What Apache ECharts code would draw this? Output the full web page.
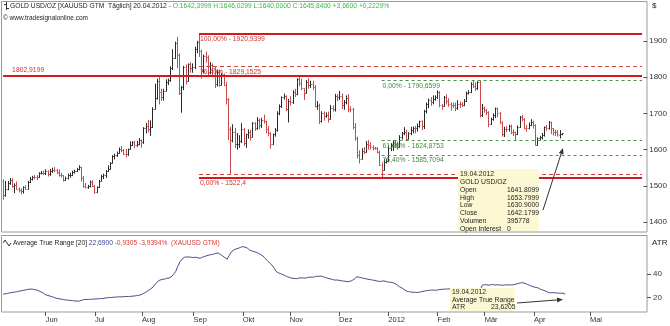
<!DOCTYPE html>
<html><head><meta charset="utf-8">
<script src="https://cdn.jsdelivr.net/npm/echarts@6/dist/echarts.min.js"></script>
<style>html,body{margin:0;padding:0;background:#fff}#c{width:670px;height:326px}</style>
</head><body><div id="c"></div>
<script>
// ---------- DATA (daily bars, 05.05.2011 - 20.04.2012) ----------
const opens = [
1515,1475,1492,1508,1517,1500,1502,1492,1490,1485,1496,1492,1510,1520,1526,1525,1525,1536,1537,
1536,1540,1533,1542,1544,1543,1539,1530,1529,1516,1521,1530,1531,1539,1542,1546,1551,1522,1501,1497,1500,1512,
1500,1483,1496,1515,1528,1530,1542,1548,1564,1583,1586,1591,1601,1600,1588,1587,1601,1614,1620,1612,1616,
1627,1622,1660,1666,1656,1663,1713,1742,1789,1760,1744,1762,1786,1793,1824,1852,1893,1862,1755,1774,1827,1790,1835,
1826,1827,1877,1898,1873,1817,1858,1855,1815,1834,1826,1781,1813,1779,1808,1779,1739,1658,1627,1650,1615,1617,
1623,1656,1618,1642,1649,1636,1673,1660,1683,1668,1683,1678,1657,1645,1617,1642,1653,1702,1721,1745,1747,
1713,1733,1732,1758,1754,1794,1783,1769,1757,1788,1779,1782,1774,1721,1724,1679,1701,1694,1697,1685,1715,1713,
1747,1745,1748,1722,1731,1743,1712,1711,1663,1632,1585,1575,1597,1594,1617,1612,1607,1605,1604,1594,1558,1544,
1566,1568,1604,1612,1620,1616,1608,1635,1645,1650,1630,1645,1655,1660,1659,1666,1678,1665,1707,1727,1737,1732,
1740,1745,1758,1724,1720,1745,1734,1727,1723,1722,1716,1727,1726,1722,1735,1757,1759,1782,1775,1769,1786,
1696,1716,1709,1705,1672,1684,1697,1714,1702,1675,1643,1658,1657,1666,1650,1648,1643,1662,1690,1685,1661,1660,
1668,1677,1668,1614,1631,1635,1640,1662,1660,1676,1659,1650,1649,1641.81,1642.40];
const highs = [
1518,1514,1514,1522,1521,1507,1512,1496,1493,1499,1502,1514,1525,1528,1530,1530,1538,1541,1542,
1546,1543,1547,1550,1552,1547,1545,1536,1530,1526,1534,1536,1542,1545,1550,1557,1553,1527,1508,1503,1515,1516,
1503,1499,1517,1531,1534,1544,1557,1566,1585,1589,1595,1606,1610,1602,1602,1603,1623,1623,1625,1624,1632,
1628,1662,1674,1682,1681,1717,1782,1796,1801,1768,1768,1794,1796,1830,1877,1898,1911,1866,1776,1831,1835,1838,1841,
1838,1884,1900,1920.94,1876,1862,1870,1860,1842,1838,1830,1820,1820,1812,1810,1786,1742,1663,1670,1660,1646,1640,
1673,1660,1644,1656,1655,1676,1676,1690,1686,1688,1697,1680,1665,1648,1645,1660,1706,1725,1747,1755,1750,
1740,1747,1764,1768,1797,1802.92,1796,1770,1792,1797,1790,1790,1778,1734,1727,1706,1705,1703,1705,1723,1722,1754,
1753,1762,1755,1737,1750,1753,1720,1715,1673,1636,1598,1604,1607,1624,1626,1620,1612,1608,1607,1597,1565,1575,
1575,1612,1618,1626,1627,1622,1640,1649,1662,1655,1648,1663,1664,1665,1672,1680,1681,1710,1730,1741,1745,1750,
1750,1764,1761,1726,1748,1753,1742,1730,1730,1730,1737,1733,1731,1740,1760,1764,1786,1790,1786,1789,1790.66,
1726,1719,1713,1706,1688,1700,1716,1716,1704,1678,1663,1665,1669,1669,1656,1650,1667,1693,1696,1687,1668,1675,
1684,1680,1670,1634,1638,1646,1664,1668,1679,1677,1660,1655,1654,1653.80,1646.03];
const lows = [
1462,1470,1488,1503,1495,1480,1490,1482,1477,1479,1489,1490,1508,1515,1518,1516,1522,1532,1530,
1530,1526,1528,1536,1538,1532,1526,1523,1512,1514,1518,1523,1527,1534,1538,1543,1512,1495,1493,1492,1496,1497,
1478,1481,1494,1513,1519,1522,1539,1545,1562,1573,1580,1589,1593,1585,1579,1583,1600,1610,1604,1608,1612,
1605,1616,1645,1648,1638,1660,1711,1738,1725,1735,1735,1761,1778,1787,1820,1850,1825,1751,1702,1764,1780,1788,1812,
1812,1822,1866,1856,1796,1810,1840,1800,1808,1800,1770,1774,1774,1777,1776,1725,1626,1532,1620,1605,1600,1605,
1618,1610,1605,1630,1625,1634,1652,1655,1656,1660,1672,1645,1637,1603,1613,1636,1650,1695,1715,1738,1706,
1675,1722,1726,1745,1750,1775,1764,1737,1755,1768,1770,1765,1717,1710,1671,1675,1680,1688,1675,1683,1705,1705,
1734,1737,1712,1710,1725,1703,1703,1656,1625,1576,1562,1573,1588,1592,1600,1600,1598,1600,1590,1555,1522.4,1542,
1562,1565,1596,1597,1605,1600,1606,1628,1640,1625,1628,1640,1645,1645,1650,1661,1654,1657,1700,1714,1721,1725,
1735,1740,1717,1710,1718,1725,1718,1708,1715,1706,1710,1715,1718,1720,1732,1752,1756,1770,1762,1765,1689,
1690,1702,1695,1662,1668,1680,1687,1690,1670,1636,1635,1648,1650,1643,1638,1627,1640,1660,1678,1656,1650,1656,
1665,1658,1612,1611,1626,1628,1636,1652,1655,1643,1639,1638,1636,1630.90,1640.00];
const closes = [
1475,1492,1508,1517,1500,1502,1492,1490,1485,1496,1492,1510,1520,1526,1525,1524,1536,1537,1536,
1540,1533,1542,1544,1543,1539,1530,1529,1516,1521,1530,1531,1539,1542,1546,1551,1522,1501,1497,1500,1512,1500,
1483,1496,1515,1528,1530,1542,1548,1564,1583,1586,1591,1601,1600,1588,1587,1601,1614,1620,1612,1616,1627,
1622,1660,1666,1656,1663,1713,1742,1789,1760,1744,1762,1786,1793,1824,1852,1893,1862,1755,1774,1827,1790,1835,1826,
1827,1877,1898,1873,1817,1858,1855,1815,1834,1826,1781,1813,1779,1808,1779,1739,1658,1627,1650,1615,1617,1623,
1656,1618,1642,1649,1636,1673,1660,1683,1668,1683,1678,1657,1645,1617,1642,1653,1702,1721,1745,1747,1713,
1733,1732,1758,1754,1794,1783,1769,1757,1788,1779,1782,1774,1721,1724,1679,1701,1694,1697,1685,1715,1713,1747,
1745,1748,1722,1731,1743,1712,1711,1663,1632,1585,1575,1597,1594,1617,1612,1607,1605,1604,1594,1558,1544,1566,
1568,1604,1612,1620,1616,1608,1635,1645,1650,1630,1645,1655,1660,1659,1666,1678,1665,1707,1727,1737,1732,1740,
1745,1758,1724,1720,1745,1734,1727,1723,1722,1716,1727,1726,1722,1735,1757,1759,1782,1775,1769,1786,1696,
1716,1709,1705,1672,1684,1697,1714,1702,1675,1643,1658,1657,1666,1650,1648,1643,1662,1690,1685,1661,1660,1668,
1677,1668,1614,1631,1635,1640,1662,1660,1676,1659,1650,1649,1642,1642.18,1645.84];
const atrValues = [
22.8,23.1,23.4,23.9,24.2,24.5,24.8,25.3,25.6,26.0,26.4,26.8,27.1,27.0,26.7,26.3,25.5,24.6,23.6,
22.2,21.6,21.1,20.5,19.8,19.1,18.8,18.5,18.1,17.8,17.6,17.4,17.2,17.0,16.8,16.9,17.5,18.0,18.3,18.2,18.4,18.5,
18.6,18.7,18.9,19.0,19.2,19.6,19.8,19.9,20.1,20.2,20.4,20.5,20.4,20.6,20.8,20.7,20.9,21.1,21.3,21.6,22.0,
22.6,23.8,24.8,26.2,27.4,29.0,31.5,33.6,34.8,35.3,35.6,36.3,36.5,37.5,39.5,42.0,46.5,50.5,53.0,54.3,54.6,54.5,54.3,
54.0,54.4,53.8,53.4,54.5,55.0,55.7,56.2,56.6,57.0,57.7,57.9,56.8,55.5,54.0,52.6,56.0,59.1,60.5,61.5,62.0,62.8,
63.4,63.0,62.2,60.5,59.8,59.2,58.5,57.7,56.6,55.5,53.4,51.5,49.5,47.7,45.0,42.0,41.0,40.2,39.4,38.5,37.6,
37.0,36.3,36.2,36.0,36.4,36.8,36.6,36.5,37.0,37.4,37.2,37.5,38.1,38.0,38.3,37.6,37.0,36.3,35.8,35.4,34.8,34.9,
34.6,34.2,34.0,33.7,33.4,33.8,34.6,36.0,37.7,37.2,36.8,36.3,35.9,35.4,35.2,34.8,34.5,34.0,33.6,33.8,34.1,33.6,
33.0,32.9,32.6,31.8,30.5,29.1,28.2,26.8,25.4,25.0,24.6,24.4,24.3,24.2,24.5,24.9,25.4,25.7,26.0,26.2,26.3,26.1,
26.4,26.7,26.9,27.1,27.1,27.3,27.0,26.8,26.6,26.5,26.2,26.0,25.8,25.9,26.1,25.9,26.3,26.4,26.2,26.4,30.5,
30.9,30.7,30.4,31.0,30.8,30.6,30.8,30.5,30.4,30.7,30.6,30.8,30.6,30.9,31.3,31.9,32.4,32.5,32.1,31.2,30.3,29.5,
28.9,28.5,28.0,26.9,26.3,25.6,24.6,24.0,23.9,24.1,23.8,23.6,23.5,23.62,22.69];

const priceTicks = [1400,1500,1600,1700,1800,1900];
const atrTicks = [20,40];
const tickMonths = ['2011-06','2011-07','2011-08','2011-09','2011-10','2011-11','2011-12','2012-01','2012-02','2012-03','2012-04','2012-05'];
const tickLabels = ['Jun','Jul','Aug','Sep','Okt','Nov','Dez','2012','Feb','Mär','Apr','Mai'];

// Levels
const redFibStart = '2011-09-06';
const redFibLevels = [1920.9399, 1829.1525, 1532.0];
const redFibLabels = ['100,00% - 1920,9399', '76,40% - 1829,1525', ''];
const supportLevel = 1522.4;
const supportLabel = '0,00% - 1522,4';
const resistLevel = 1802.9199;
const resistLabel = '1802,9199';
const greenFibStart = '2011-12-29';
const greenFibLevels = [1790.6599, 1624.8753, 1585.7094, 1522.4];
const greenFibLabels = ['0,00% - 1790,6599', '61,80% - 1624,8753', '76,40% - 1585,7094', '100,00% - 1522,4'];

const titleMain = 'GOLD USD/OZ [XAUUSD GTM  Täglich] 20.04.2012 - ';
const titleQuote = 'O:1642,3999 H:1646,0299 L:1640,0000 C:1645,8400 +3,6600 +0,2229%';
const atrName = 'Average True Range [20] ';
const atrValueText = '22,6900';
const atrChangeText = ' -0,9305 -3,9394%  (XAUUSD GTM)';
const tipMainRows = [['19.04.2012',''],['GOLD USD/OZ',''],['Open','1641.8099'],['High','1653.7999'],['Low','1630.9000'],['Close','1642.1799'],['Volumen','395778'],['Open Interest','0']];
const tipAtrRows = [['19.04.2012',''],['Average True Range',''],['ATR','23,6205']];

// ---------- categories: trading days, then calendar days after last bar ----------
function buildDates(){
  const out=[]; const one=86400000;
  let t=Date.UTC(2011,4,5); const lastTrade=Date.UTC(2012,3,20), end=Date.UTC(2012,4,26);
  while(t<=end){ const d=new Date(t), wd=d.getUTCDay();
    if(t>lastTrade || (wd!==0 && wd!==6)) out.push(d.toISOString().slice(0,10));
    t+=one; }
  return out;
}
const dates = buildDates();
const LAST = dates.length-1;
const labelAt = new Map();
tickMonths.forEach((m,k)=>{ const i=dates.findIndex(d=>d.startsWith(m)); if(i>=0) labelAt.set(i,tickLabels[k]); });

const FONT = '"Liberation Sans", Arial, sans-serif';
// fit font sizes to the widths measured in the reference
const mctx = document.createElement('canvas').getContext('2d');
function fit(text, w){ mctx.font = '100px '+FONT; return Math.min(8.5, Math.max(6, 100*w/mctx.measureText(text).width)); }
const FS_TITLE = fit(titleMain+titleQuote, 380);
const FS_ATR = fit(atrName+atrValueText+atrChangeText, 207);
const FS = fit('100,00% - 1920,9399', 65);
const FS_COPY = fit('© www.tradesignalonline.com', 85);

const ohlcData = opens.map((o,i)=>[i,o,highs[i],lows[i],closes[i]]);

function renderOHLC(params, api){
  const i=api.value(0);
  const ph=api.coord([i, api.value(2)]);
  const x=Math.round(ph[0])+0.5;
  const yl=api.coord([i, api.value(3)])[1];
  const yo=Math.round(api.coord([i, api.value(1)])[1])+0.5;
  const yc=Math.round(api.coord([i, api.value(4)])[1])+0.5;
  const up=api.value(4)>=api.value(1);
  const col=up?'#2a2a2a':'#c94a4a';
  const st={stroke:col,lineWidth:1};
  return {type:'group',children:[
    {type:'line',shape:{x1:x,y1:ph[1],x2:x,y2:yl},style:st},
    {type:'line',shape:{x1:x-1,y1:yo,x2:x,y2:yo},style:st},
    {type:'line',shape:{x1:x,y1:yc,x2:x+1,y2:yc},style:st}
  ]};
}

const RED='#d81818', REDL='#cc3030', GREEN='#4d944d', GREENL='#3d8a3d';
function lbl(text,color,pos,dist){
  return {show:!!text, formatter:text, position:pos||'insideStartBottom', color:color, fontSize:FS, fontFamily:FONT, distance:dist||[1,2]};
}
const redStartIdx = dates.indexOf(redFibStart);
const greenStartIdx = dates.indexOf(greenFibStart);

const greenLines = greenFibLevels.map((v,k)=>[
  {coord:[greenStartIdx, v], lineStyle:{color:GREEN,type:[3,3],width:1,opacity:k===3?0:1}, label:lbl(greenFibLabels[k],GREENL)},
  {coord:[LAST, v]}]);
const redDashed = [1,2].map(k=>[
  {coord:[redStartIdx, redFibLevels[k]], lineStyle:{color:'#d04848',type:[4,3],width:1}, label:lbl(redFibLabels[k],REDL)},
  {coord:[LAST, redFibLevels[k]]}]);
const redSolid = [
  [{coord:[redStartIdx, redFibLevels[0]], lineStyle:{color:RED,type:'solid',width:2}, label:lbl(redFibLabels[0],REDL)},{coord:[LAST, redFibLevels[0]]}],
  [{coord:[redStartIdx, supportLevel], lineStyle:{color:RED,type:'solid',width:2}, label:lbl(supportLabel,REDL)},{coord:[LAST, supportLevel]}],
  [{coord:[0, resistLevel], lineStyle:{color:RED,type:'solid',width:2}, label:lbl(resistLabel,REDL,'insideStartTop',[9,2])},{coord:[LAST, resistLevel]}]
];

function arrow(x1,y1,x2,y2){
  const a=Math.atan2(y2-y1,x2-x1), L=6, W=2.5;
  const bx=x2-L*Math.cos(a), by=y2-L*Math.sin(a);
  return [
    {type:'line',z:100,shape:{x1:x1,y1:y1,x2:bx,y2:by},style:{stroke:'#333',lineWidth:1}},
    {type:'polygon',z:100,shape:{points:[[x2,y2],[bx+W*Math.sin(a),by-W*Math.cos(a)],[bx-W*Math.sin(a),by+W*Math.cos(a)]]},style:{fill:'#333'}}
  ];
}
function txt(x,y,text,color,size){
  return {type:'text',z:101,x:x,y:y,style:{text:text,fill:color||'#222',font:(size||FS)+'px '+FONT,textVerticalAlign:'middle'}};
}

const graphics = [
  {type:'rect',z:-1,shape:{x:1.5,y:1.5,width:645.5,height:230.5},style:{fill:'none',stroke:'#9a9a9a',lineWidth:1}},
  {type:'rect',z:-1,shape:{x:1.5,y:235.5,width:645.5,height:76.5},style:{fill:'none',stroke:'#9a9a9a',lineWidth:1}},
  // title icon
  {type:'line',shape:{x1:6.5,y1:2,x2:6.5,y2:10},style:{stroke:'#333',lineWidth:1}},
  {type:'line',shape:{x1:4,y1:4.5,x2:6.5,y2:4.5},style:{stroke:'#333',lineWidth:1}},
  {type:'line',shape:{x1:6.5,y1:8.5,x2:9,y2:8.5},style:{stroke:'#333',lineWidth:1}},
  {type:'text',x:10,y:6,style:{text:'{k|'+titleMain+'}{g|'+titleQuote+'}',
    textVerticalAlign:'middle', rich:{k:{fill:'#222',fontSize:FS_TITLE,fontFamily:FONT}, g:{fill:'#3cb54a',fontSize:FS_TITLE,fontFamily:FONT}}}},
  txt(3,18.5,'© www.tradesignalonline.com','#222',FS_COPY),
  txt(652,6,'$','#222',8),
  txt(652,243,'ATR','#222',8),
  // ATR icon
  {type:'polyline',shape:{points:[[3,243],[5,240],[7,243],[9,246],[11,243]]},style:{stroke:'#333',lineWidth:1,fill:'none'}},
  {type:'text',x:13,y:243,style:{text:'{k|'+atrName+'}{b|'+atrValueText+'}{r|'+atrChangeText+'}',
    textVerticalAlign:'middle', rich:{k:{fill:'#222',fontSize:FS_ATR,fontFamily:FONT}, b:{fill:'#3d3d95',fontSize:FS_ATR,fontFamily:FONT}, r:{fill:'#d83a3a',fontSize:FS_ATR,fontFamily:FONT}}}},
  // main tooltip box
  {type:'rect',z:99,shape:{x:458,y:169,width:81,height:62},style:{fill:'#fdf8d4',stroke:'none'}},
  // atr tooltip box
  {type:'rect',z:99,shape:{x:450,y:288,width:65,height:23},style:{fill:'#fdf8d4',stroke:'none'}}
];
tipMainRows.forEach((r,k)=>{ graphics.push(txt(460,174+k*7.9,r[0])); if(r[1]) graphics.push(txt(507,174+k*7.9,r[1])); });
tipAtrRows.forEach((r,k)=>{ graphics.push(txt(452,292.5+k*7.5,r[0])); if(r[1]) graphics.push(txt(491,292.5+k*7.5,r[1])); });
graphics.push(...arrow(543,210,563,148));
graphics.push(...arrow(517,303,563,299.5));

const chart = echarts.init(document.getElementById('c'), null, {renderer:'canvas'});
chart.setOption({
  animation:false,
  backgroundColor:'#fff',
  textStyle:{fontFamily:FONT},
  grid:[
    {left:2,right:23,top:1,bottom:94,containLabel:false},
    {left:2,right:23,top:236,bottom:14,containLabel:false}
  ],
  xAxis:[
    {type:'category',gridIndex:0,data:dates,boundaryGap:true,axisLine:{show:false},axisTick:{show:false},axisLabel:{show:false},splitLine:{show:false}},
    {type:'category',gridIndex:1,data:dates,boundaryGap:true,axisLine:{show:false},
     axisTick:{show:true,alignWithLabel:true,interval:(i)=>labelAt.has(i),length:4,lineStyle:{color:'#555'}},
     axisLabel:{interval:(i)=>labelAt.has(i),formatter:(v,i)=>labelAt.get(i)||'',align:'left',fontSize:7.5,color:'#333',margin:4,fontFamily:FONT},
     splitLine:{show:false}}
  ],
  yAxis:[
    {type:'value',gridIndex:0,position:'right',min:1373,max:2010,splitLine:{show:false},axisLine:{show:false},
     axisTick:{show:true,length:4,customValues:priceTicks,lineStyle:{color:'#555'}},
     axisLabel:{customValues:priceTicks,formatter:(v)=>String(v),fontSize:8,color:'#333',margin:6,fontFamily:FONT}},
    {type:'value',gridIndex:1,position:'right',min:7.5,max:72.5,splitLine:{show:false},axisLine:{show:false},
     axisTick:{show:true,length:4,customValues:atrTicks,lineStyle:{color:'#555'}},
     axisLabel:{customValues:atrTicks,formatter:(v)=>String(v),fontSize:8,color:'#333',margin:6,fontFamily:FONT}}
  ],
  series:[
    {type:'line',xAxisIndex:0,yAxisIndex:0,data:[],silent:true,z:1,
     markLine:{silent:true,symbol:'none',animation:false,data:greenLines}},
    {type:'line',xAxisIndex:0,yAxisIndex:0,data:[],silent:true,z:2,
     markLine:{silent:true,symbol:'none',animation:false,data:redDashed}},
    {type:'custom',xAxisIndex:0,yAxisIndex:0,data:ohlcData,renderItem:renderOHLC,encode:{x:0,y:[1,2,3,4]},z:3,clip:true},
    {type:'line',xAxisIndex:0,yAxisIndex:0,data:[],silent:true,z:4,
     markLine:{silent:true,symbol:'none',animation:false,data:redSolid}},
    {type:'line',xAxisIndex:1,yAxisIndex:1,data:atrValues,showSymbol:false,symbol:'none',lineStyle:{color:'#4a4a8c',width:1},z:3}
  ],
  graphic:graphics
});
</script></body></html>
